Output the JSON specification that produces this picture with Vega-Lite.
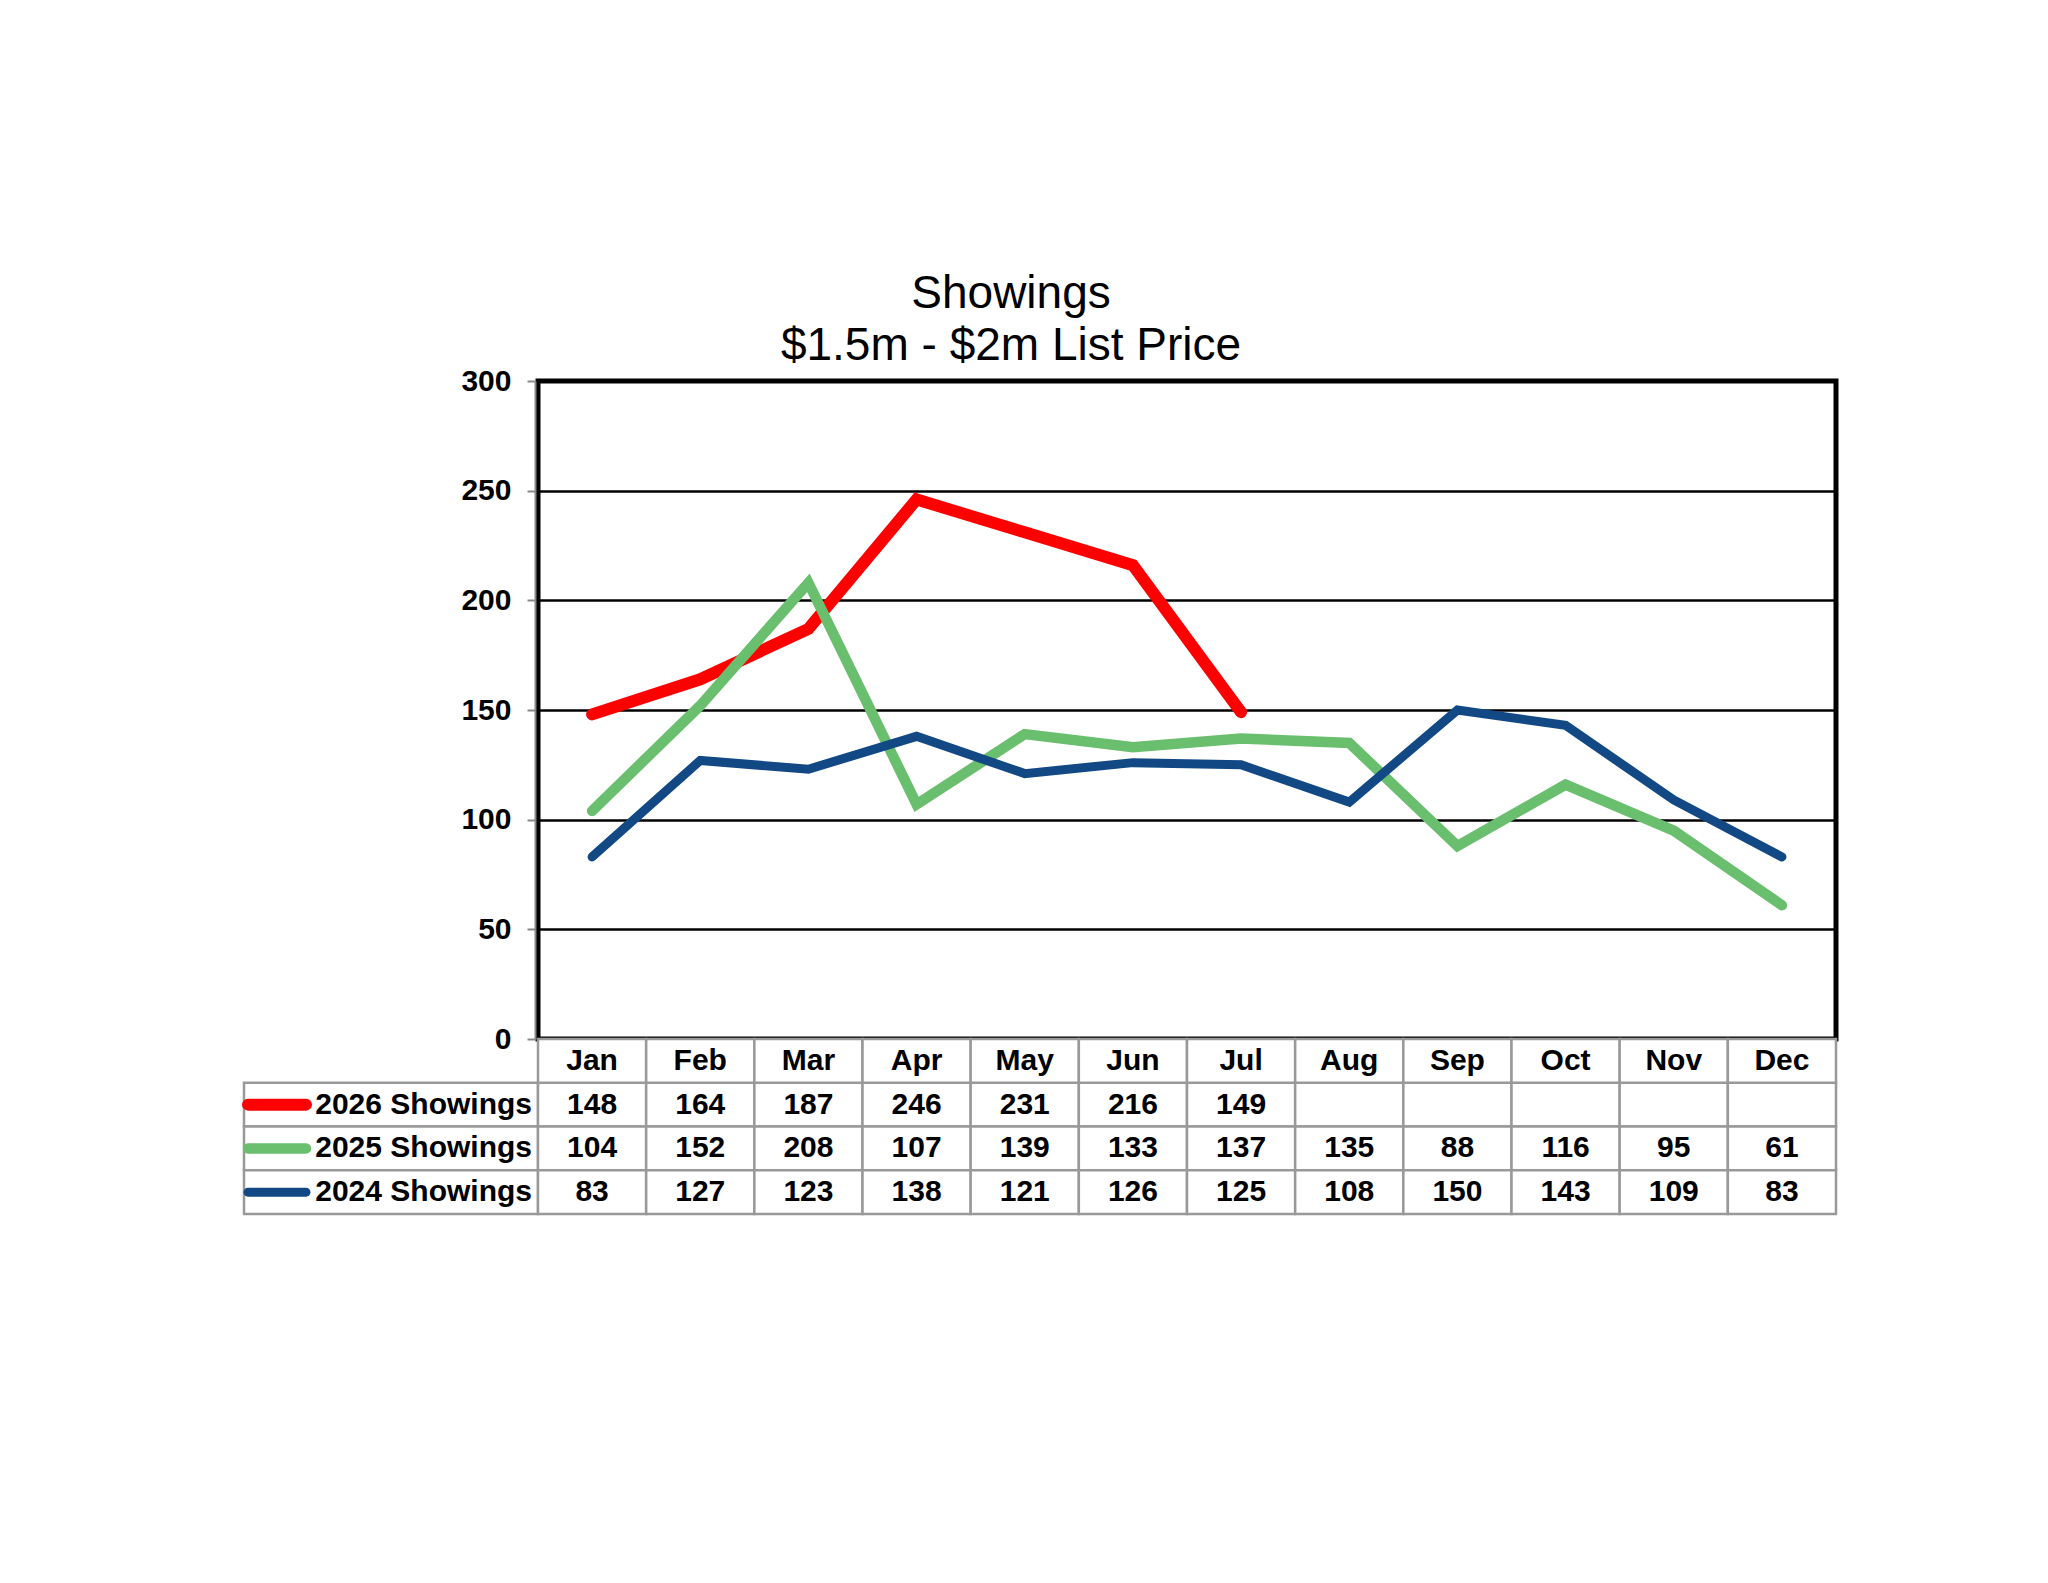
{
  "$schema": "https://vega.github.io/schema/vega-lite/v6.json",
  "background": "#ffffff",
  "padding": {"left": 224, "top": 268, "right": 0, "bottom": 0},
  "datasets": {
    "showings": [
      {"month": "Jan", "series": "2026 Showings", "value": 148},
      {"month": "Feb", "series": "2026 Showings", "value": 164},
      {"month": "Mar", "series": "2026 Showings", "value": 187},
      {"month": "Apr", "series": "2026 Showings", "value": 246},
      {"month": "May", "series": "2026 Showings", "value": 231},
      {"month": "Jun", "series": "2026 Showings", "value": 216},
      {"month": "Jul", "series": "2026 Showings", "value": 149},
      {"month": "Aug", "series": "2026 Showings", "value": null},
      {"month": "Sep", "series": "2026 Showings", "value": null},
      {"month": "Oct", "series": "2026 Showings", "value": null},
      {"month": "Nov", "series": "2026 Showings", "value": null},
      {"month": "Dec", "series": "2026 Showings", "value": null},
      {"month": "Jan", "series": "2025 Showings", "value": 104},
      {"month": "Feb", "series": "2025 Showings", "value": 152},
      {"month": "Mar", "series": "2025 Showings", "value": 208},
      {"month": "Apr", "series": "2025 Showings", "value": 107},
      {"month": "May", "series": "2025 Showings", "value": 139},
      {"month": "Jun", "series": "2025 Showings", "value": 133},
      {"month": "Jul", "series": "2025 Showings", "value": 137},
      {"month": "Aug", "series": "2025 Showings", "value": 135},
      {"month": "Sep", "series": "2025 Showings", "value": 88},
      {"month": "Oct", "series": "2025 Showings", "value": 116},
      {"month": "Nov", "series": "2025 Showings", "value": 95},
      {"month": "Dec", "series": "2025 Showings", "value": 61},
      {"month": "Jan", "series": "2024 Showings", "value": 83},
      {"month": "Feb", "series": "2024 Showings", "value": 127},
      {"month": "Mar", "series": "2024 Showings", "value": 123},
      {"month": "Apr", "series": "2024 Showings", "value": 138},
      {"month": "May", "series": "2024 Showings", "value": 121},
      {"month": "Jun", "series": "2024 Showings", "value": 126},
      {"month": "Jul", "series": "2024 Showings", "value": 125},
      {"month": "Aug", "series": "2024 Showings", "value": 108},
      {"month": "Sep", "series": "2024 Showings", "value": 150},
      {"month": "Oct", "series": "2024 Showings", "value": 143},
      {"month": "Nov", "series": "2024 Showings", "value": 109},
      {"month": "Dec", "series": "2024 Showings", "value": 83}
    ]
  },
  "columns": 2,
  "spacing": 0,
  "bounds": "flush",
  "concat": [
    {
      "width": 294,
      "height": 658,
      "view": {"stroke": null},
      "data": {"values": [{}]},
      "mark": {"type": "text"},
      "encoding": {"text": {"value": ""}}
    },
    {
      "width": 1298,
      "height": 658,
      "title": {
        "text": ["Showings", "$1.5m - $2m List Price"],
        "font": "Liberation Sans",
        "fontSize": 46,
        "fontWeight": "normal",
        "lineHeight": 52,
        "color": "#000000",
        "dx": -176,
        "offset": -4
      },
      "view": {"stroke": "#000000", "strokeWidth": 5},
      "data": {"name": "showings"},
      "mark": {"type": "line", "strokeCap": "round", "strokeJoin": "miter"},
      "encoding": {
        "x": {
          "field": "month",
          "type": "ordinal",
          "sort": ["Jan", "Feb", "Mar", "Apr", "May", "Jun", "Jul", "Aug", "Sep", "Oct", "Nov", "Dec"],
          "scale": {"type": "point", "padding": 0.5},
          "axis": null
        },
        "y": {
          "field": "value",
          "type": "quantitative",
          "scale": {"domain": [0, 300]},
          "axis": {
            "title": null,
            "values": [0, 50, 100, 150, 200, 250, 300],
            "grid": true,
            "gridColor": "#000000",
            "gridWidth": 2.5,
            "gridOpacity": 1,
            "domainColor": "#888888",
            "domainWidth": 2,
            "offset": 3,
            "tickColor": "#888888",
            "tickWidth": 2,
            "tickSize": 8,
            "labelFont": "Liberation Sans",
            "labelFontSize": 30,
            "labelFontWeight": "bold",
            "labelColor": "#000000",
            "labelPadding": 16
          }
        },
        "color": {
          "field": "series",
          "type": "nominal",
          "scale": {
            "domain": ["2026 Showings", "2025 Showings", "2024 Showings"],
            "range": ["#ff0000", "#6abf6e", "#124884"]
          },
          "legend": null
        },
        "strokeWidth": {
          "field": "series",
          "type": "nominal",
          "scale": {
            "domain": ["2026 Showings", "2025 Showings", "2024 Showings"],
            "range": [12, 9, 10]
          },
          "legend": null
        }
      }
    },
    {
      "width": 294,
      "height": 175,
      "view": {"stroke": null},
      "data": {"name": "showings"},
      "transform": [{"filter": "datum.month === 'Jan'"}],
      "encoding": {
        "y": {
          "field": "series",
          "type": "nominal",
          "scale": {
            "type": "band",
            "domain": ["header", "2026 Showings", "2025 Showings", "2024 Showings"],
            "paddingInner": 0,
            "paddingOuter": 0
          },
          "axis": null
        }
      },
      "layer": [
        {
          "mark": {"type": "rect", "fill": "#ffffff", "stroke": "#999999", "strokeWidth": 2.5}
        },
        {
          "mark": {"type": "point", "shape": "stroke", "filled": false, "size": 3364, "strokeCap": "round", "opacity": 1},
          "encoding": {
            "x": {"value": 33},
            "color": {
              "field": "series",
              "type": "nominal",
              "scale": {
                "domain": ["2026 Showings", "2025 Showings", "2024 Showings"],
                "range": ["#ff0000", "#6abf6e", "#124884"]
              },
              "legend": null
            },
            "strokeWidth": {
              "field": "series",
              "type": "nominal",
              "scale": {
                "domain": ["2026 Showings", "2025 Showings", "2024 Showings"],
                "range": [12, 9, 10]
              },
              "legend": null
            }
          }
        },
        {
          "mark": {"type": "text", "align": "right", "dx": -6, "font": "Liberation Sans", "fontSize": 30, "fontWeight": "bold", "color": "#000000"},
          "encoding": {
            "x": {"value": "width"},
            "text": {"field": "series", "type": "nominal"}
          }
        }
      ]
    },
    {
      "width": 1298,
      "height": 175,
      "view": {"stroke": null},
      "data": {"name": "showings"},
      "encoding": {
        "x": {
          "field": "month",
          "type": "ordinal",
          "sort": ["Jan", "Feb", "Mar", "Apr", "May", "Jun", "Jul", "Aug", "Sep", "Oct", "Nov", "Dec"],
          "scale": {"type": "band", "paddingInner": 0, "paddingOuter": 0},
          "axis": null
        }
      },
      "layer": [
        {
          "mark": {"type": "rect", "fill": "#ffffff", "stroke": "#999999", "strokeWidth": 2.5},
          "encoding": {
            "y": {
              "field": "series",
              "type": "nominal",
              "scale": {
                "type": "band",
                "domain": ["header", "2026 Showings", "2025 Showings", "2024 Showings"],
                "paddingInner": 0,
                "paddingOuter": 0
              },
              "axis": null
            }
          }
        },
        {
          "transform": [{"filter": "datum.series === '2024 Showings'"}],
          "mark": {"type": "rect", "fill": "#ffffff", "stroke": "#999999", "strokeWidth": 2.5},
          "encoding": {"y": {"datum": "header"}}
        },
        {
          "transform": [{"filter": "datum.series === '2024 Showings'"}],
          "mark": {"type": "text", "font": "Liberation Sans", "fontSize": 30, "fontWeight": "bold", "color": "#000000"},
          "encoding": {
            "y": {"datum": "header"},
            "text": {"field": "month", "type": "nominal"}
          }
        },
        {
          "transform": [{"filter": "isValid(datum.value)"}],
          "mark": {"type": "text", "font": "Liberation Sans", "fontSize": 30, "fontWeight": "bold", "color": "#000000"},
          "encoding": {
            "y": {"field": "series", "type": "nominal"},
            "text": {"field": "value", "type": "quantitative", "format": "d"}
          }
        }
      ]
    }
  ]
}
